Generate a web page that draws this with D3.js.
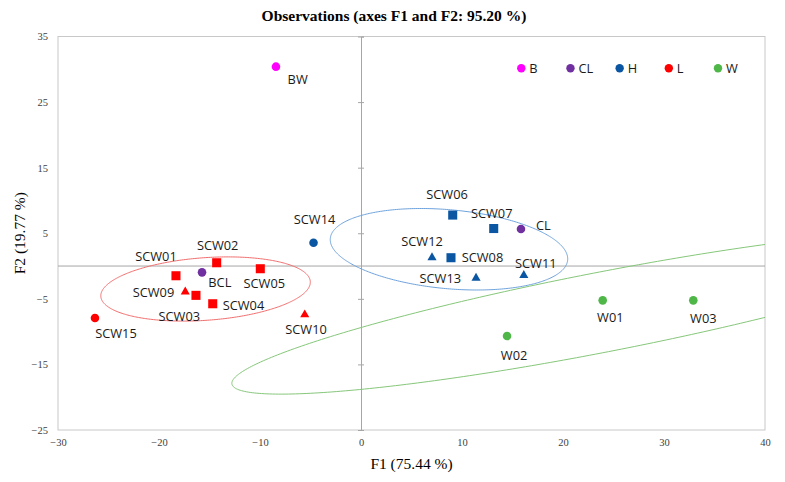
<!DOCTYPE html>
<html>
<head>
<meta charset="utf-8">
<script src="https://cdn.jsdelivr.net/npm/d3@7"></script>
<style>
  html, body { margin: 0; padding: 0; background: #fff; }
  svg { display: block; }
</style>
</head>
<body>
<svg id="chart" width="785" height="482"></svg>
<script>
// ---------------- DATA ----------------
const titleText = "Observations (axes F1 and F2: 95.20 %)";
const xTitle = "F1 (75.44 %)";
const yTitle = "F2 (19.77 %)";

const xTicks = [-30, -20, -10, 0, 10, 20, 30, 40];
const yTicks = [-25, -15, -5, 5, 15, 25, 35];

const legendGroups = ["B", "CL", "H", "L", "W"];

const names  = ["BW", "SCW01", "SCW02", "BCL", "SCW05", "SCW09", "SCW03", "SCW04", "SCW15", "SCW10",
                "SCW14", "SCW06", "SCW07", "CL", "SCW12", "SCW08", "SCW13", "SCW11", "W01", "W03", "W02"];
const f1     = [-8.42, -18.32, -14.29, -15.74, -9.97, -17.40, -16.34, -14.68, -26.34, -5.57,
                -4.70, 9.08, 13.14, 15.84, 7.03, 8.91, 11.39, 16.12, 23.93, 32.90, 14.46];
const f2     = [30.40, -1.48, 0.50, -0.96, -0.41, -3.92, -4.47, -5.75, -7.93, -7.42,
                3.54, 7.77, 5.72, 5.64, 1.30, 1.27, -1.83, -1.42, -5.23, -5.23, -10.67];
const groups = ["B", "L", "L", "CL", "L", "L", "L", "L", "L", "L",
                "H", "H", "H", "CL", "H", "H", "H", "H", "W", "W", "W"];
const kinds  = ["circle", "square", "square", "circle", "square", "triangle", "square", "square", "circle", "triangle",
                "circle", "square", "square", "circle", "triangle", "square", "triangle", "triangle", "circle", "circle", "circle"];

// Confidence ellipses: centre and two conjugate half-axis vectors (data units)
const ellipseGroups  = ["L", "H", "W"];
const ellipseCenters = [[-15.39, -3.50], [8.71, 2.56], [23.76, -7.07]];
const ellipseAxisU   = [[10.37, 1.14], [11.75, -1.65], [36.54, 10.93]];
const ellipseAxisV   = [[0.22, -4.76], [-0.36, -5.99], [0.755, -5.98]];

// ---------------- STYLE ----------------
const groupColor = { B: "#FF00FF", CL: "#7030A0", H: "#0B56A3", L: "#FF0000", W: "#4EB748" };
const ellipseColor = { L: "#F26D6D", H: "#6FA3DC", W: "#86C77A" };
const serif = "'Liberation Serif', 'DejaVu Serif', serif";
const sans = "'Open Sans', 'Liberation Sans', sans-serif";

const svg = d3.select("#chart");
const W = 785, H = 482;
const plot = { left: 58, right: 765, top: 36.5, bottom: 430 };

const x = d3.scaleLinear().domain([-30, 40]).range([plot.left, plot.right]);
const y = d3.scaleLinear().domain([-25, 35]).range([plot.bottom, plot.top]);

svg.append("rect").attr("width", W).attr("height", H).attr("fill", "#fff");

// Title
svg.append("text")
  .attr("x", 394).attr("y", 21)
  .attr("text-anchor", "middle")
  .attr("font-family", serif).attr("font-weight", "bold").attr("font-size", 15.5)
  .attr("fill", "#000")
  .text(titleText);

// Plot border
svg.append("rect")
  .attr("x", plot.left).attr("y", plot.top)
  .attr("width", plot.right - plot.left).attr("height", plot.bottom - plot.top)
  .attr("fill", "none").attr("stroke", "#C8C8C8").attr("stroke-width", 1);

// Bottom tick labels (x)
const xAxis = d3.axisBottom(x).tickValues(xTicks).tickSize(0).tickPadding(9).tickFormat(d3.format("d"));
const gx = svg.append("g").attr("transform", `translate(0,${plot.bottom})`).call(xAxis);
gx.select(".domain").remove();
gx.selectAll("text").attr("font-family", serif).attr("font-size", 10.5).attr("fill", "#404040");

// Left tick labels (y)
const yAxis = d3.axisLeft(y).tickValues(yTicks).tickSize(0).tickPadding(10).tickFormat(d3.format("d"));
const gy = svg.append("g").attr("transform", `translate(${plot.left},0)`).call(yAxis);
gy.select(".domain").remove();
gy.selectAll("text").attr("font-family", serif).attr("font-size", 10.5).attr("fill", "#404040");

// Inner axes through origin
svg.append("line")
  .attr("x1", plot.left).attr("x2", plot.right)
  .attr("y1", y(0)).attr("y2", y(0))
  .attr("stroke", "#A6A6A6").attr("stroke-width", 1);
const gv = svg.append("g").attr("transform", `translate(${x(0)},0)`)
  .call(d3.axisRight(y).tickValues(yTicks).tickSize(3).tickFormat(""));
gv.select(".domain").attr("stroke", "#A6A6A6");
gv.selectAll(".tick line").attr("stroke", "#A6A6A6").attr("x1", -3).attr("x2", 3);

// Axis titles
svg.append("text")
  .attr("x", (plot.left + plot.right) / 2).attr("y", 469)
  .attr("text-anchor", "middle")
  .attr("font-family", serif).attr("font-size", 15.5).attr("fill", "#000")
  .text(xTitle);
svg.append("text")
  .attr("transform", `translate(25,${(plot.top + plot.bottom) / 2}) rotate(-90)`)
  .attr("text-anchor", "middle")
  .attr("font-family", serif).attr("font-size", 15.5).attr("fill", "#000")
  .text(yTitle);

// Clip
svg.append("clipPath").attr("id", "plotClip")
  .append("rect")
  .attr("x", plot.left).attr("y", plot.top)
  .attr("width", plot.right - plot.left).attr("height", plot.bottom - plot.top);

// Ellipses
const line = d3.line().x(p => x(p[0])).y(p => y(p[1]));
const eg = svg.append("g").attr("clip-path", "url(#plotClip)");
ellipseGroups.forEach((g, i) => {
  const c = ellipseCenters[i], u = ellipseAxisU[i], v = ellipseAxisV[i];
  const pts = d3.range(0, 361, 1).map(a => {
    const t = a * Math.PI / 180;
    return [c[0] + u[0] * Math.cos(t) + v[0] * Math.sin(t),
            c[1] + u[1] * Math.cos(t) + v[1] * Math.sin(t)];
  });
  eg.append("path")
    .attr("d", line(pts) + "Z")
    .attr("fill", "none")
    .attr("stroke", ellipseColor[g])
    .attr("stroke-width", 1);
});

// Points
const symbolType = { circle: d3.symbolCircle, square: d3.symbolSquare, triangle: d3.symbolTriangle };
const symbolSize = { circle: 58, square: 82, triangle: 36 };
const pts = names.map((n, i) => ({ name: n, f1: f1[i], f2: f2[i], group: groups[i], kind: kinds[i] }));

svg.append("g").selectAll("path")
  .data(pts).join("path")
  .attr("transform", d => `translate(${x(d.f1)},${y(d.f2)})`)
  .attr("d", d => d3.symbol(symbolType[d.kind], symbolSize[d.kind])())
  .attr("fill", d => groupColor[d.group]);

// Point labels (placement relative to each point, in px)
const labelPlacement = {
  BW: [21.7, 17.8, "middle"], SCW01: [-20, -15.2, "middle"], SCW02: [1, -13.2, "middle"],
  BCL: [6.3, 14.5, "start"], SCW05: [4, 19.1, "middle"], SCW09: [-11, 5.1, "end"],
  SCW03: [-16.7, 25.9, "middle"], SCW04: [10, 6.1, "start"], SCW15: [21, 19.5, "middle"],
  SCW10: [1.3, 18.8, "middle"], SCW14: [1, -18.5, "middle"], SCW06: [-5.7, -16.2, "middle"],
  SCW07: [-2, -10.7, "middle"], CL: [15, 0.5, "start"], SCW12: [-10, -11.5, "middle"],
  SCW08: [10.7, 4.5, "start"], SCW13: [-15, 5.2, "end"], SCW11: [12, -7.5, "middle"],
  W01: [7.6, 21.5, "middle"], W03: [10, 22.5, "middle"], W02: [7, 23.5, "middle"]
};
svg.append("g").selectAll("text")
  .data(pts).join("text")
  .attr("x", d => x(d.f1) + labelPlacement[d.name][0])
  .attr("y", d => y(d.f2) + labelPlacement[d.name][1])
  .attr("text-anchor", d => labelPlacement[d.name][2])
  .attr("font-family", sans).attr("font-size", 12.8).attr("fill", "#1a1a1a")
  .text(d => d.name);

// Legend
const legendX = d3.scalePoint().domain(legendGroups).range([521.3, 718]);
const lg = svg.append("g").selectAll("g")
  .data(legendGroups).join("g")
  .attr("transform", d => `translate(${legendX(d)},68.3)`);
lg.append("circle").attr("r", 4.2).attr("fill", d => groupColor[d]);
lg.append("text")
  .attr("x", 8).attr("y", 4.6)
  .attr("font-family", sans).attr("font-size", 12.8).attr("fill", "#1a1a1a")
  .text(d => d);
</script>
</body>
</html>
